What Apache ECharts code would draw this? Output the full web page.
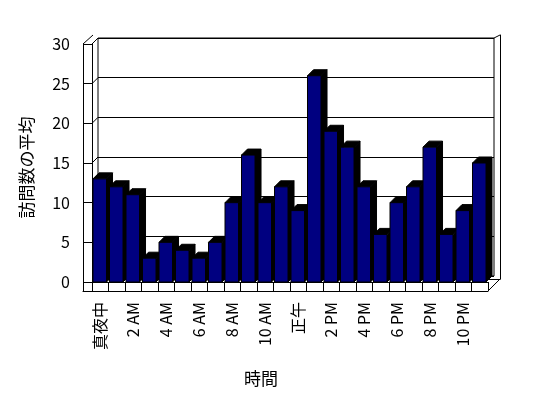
<!DOCTYPE html>
<html>
<head>
<meta charset="utf-8">
<script src="https://cdn.jsdelivr.net/npm/echarts@6/dist/echarts.min.js"></script>
<style>
  html, body { margin: 0; padding: 0; background: #fff; }
  #chart { width: 548px; height: 398px; }
</style>
</head>
<body>
<div id="chart"></div>
<script>
// 時間帯（ラベルは1つおきに表示）
const hours = ['真夜中', '1 AM', '2 AM', '3 AM', '4 AM', '5 AM', '6 AM', '7 AM', '8 AM', '9 AM', '10 AM', '11 AM',
  '正午', '1 PM', '2 PM', '3 PM', '4 PM', '5 PM', '6 PM', '7 PM', '8 PM', '9 PM', '10 PM', '11 PM']
// 訪問数の平均
const visits = [13, 12, 11, 3, 5, 4, 3, 5, 10, 16, 10, 12, 9, 26, 19, 17, 12, 6, 10, 12, 17, 6, 9, 15]
const yMin = 0
const yMax = 30
const yStep = 5
const yTicks = [0, 5, 10, 15, 20, 25, 30]

const font = '"Noto Sans CJK JP", "Noto Sans", sans-serif'
const depth = 6

const chart = echarts.init(document.getElementById('chart'))

// 3D風の棒：正面＋上面＋側面
function renderBar (params, api) {
  const idx = api.value(0)
  const top = api.coord([idx, api.value(1)])
  const base = api.coord([idx, 0])
  const w = api.size([1, 0])[0]
  const x0 = top[0] - w / 2 + 1
  const x1 = x0 + w * 0.82
  return {
    type: 'group',
    children: [
      {
        type: 'polygon',
        shape: { points: [[x1, top[1]], [x1 + depth, top[1] - depth], [x1 + depth, base[1] - depth], [x1, base[1]]] },
        style: { fill: '#000', stroke: '#000', lineWidth: 1 }
      },
      {
        type: 'polygon',
        shape: { points: [[x0, top[1]], [x0 + depth, top[1] - depth], [x1 + depth, top[1] - depth], [x1, top[1]]] },
        style: { fill: '#000', stroke: '#000', lineWidth: 1 }
      },
      {
        type: 'rect',
        shape: { x: x0, y: top[1], width: x1 - x0, height: base[1] - top[1] },
        style: { fill: '#000080', stroke: '#000', lineWidth: 1 }
      }
    ]
  }
}

// 左の壁：手前の目盛から奥の目盛線へつなぐ斜線
function renderWallTick (params, api) {
  const p = api.coord([0, api.value(0)])
  const x = params.coordSys.x
  return {
    type: 'line',
    shape: { x1: x, y1: p[1], x2: x + depth, y2: p[1] - depth },
    style: { stroke: '#000', lineWidth: 1 }
  }
}

const hidden = { show: false }

const option = {
  backgroundColor: '#fff',
  animation: false,
  title: {
    text: '時間',
    left: 239,
    top: 365,
    textStyle: { fontFamily: font, fontSize: 17, fontWeight: 'normal', color: '#000' }
  },
  grid: [
    // 奥の壁（目盛線）
    { left: 98, top: 38, width: 396, height: 238, show: true, borderColor: '#000', borderWidth: 1, backgroundColor: '#fff' },
    // 手前の面（棒・軸ラベル）
    { left: 92, top: 44, width: 396, height: 238 },
    // 外枠（左壁・床の前縁）
    { left: 83, top: 44, width: 405, height: 247 },
    // 外枠（上・右）
    { left: 93, top: 35, width: 407, height: 244 }
  ],
  xAxis: [
    { gridIndex: 0, type: 'category', data: hours, axisLine: hidden, axisTick: hidden, axisLabel: hidden },
    {
      gridIndex: 1,
      type: 'category',
      data: hours,
      axisLine: { show: true, lineStyle: { color: '#000', width: 1 } },
      axisTick: { show: true, interval: 0, length: 9, lineStyle: { color: '#000' } },
      axisLabel: {
        interval: 1,
        rotate: 90,
        margin: 20,
        color: '#000',
        fontFamily: font,
        fontSize: 16
      }
    },
    {
      gridIndex: 2,
      type: 'category',
      data: hours,
      axisLine: { show: true, lineStyle: { color: '#000', width: 1 } },
      axisTick: hidden,
      axisLabel: hidden
    },
    {
      gridIndex: 3,
      type: 'category',
      data: hours,
      position: 'top',
      axisLine: { show: true, lineStyle: { color: '#000', width: 1 } },
      axisTick: hidden,
      axisLabel: hidden
    }
  ],
  yAxis: [
    {
      gridIndex: 0,
      type: 'value',
      min: yMin,
      max: yMax,
      interval: yStep,
      axisLine: hidden,
      axisTick: hidden,
      axisLabel: hidden,
      splitLine: { show: true, lineStyle: { color: '#000', width: 1 } }
    },
    {
      gridIndex: 1,
      type: 'value',
      min: yMin,
      max: yMax,
      interval: yStep,
      axisLine: { show: true, lineStyle: { color: '#000', width: 1 } },
      axisTick: { show: true, length: 9, lineStyle: { color: '#000' } },
      axisLabel: { margin: 22, color: '#000', fontFamily: font, fontSize: 16 },
      splitLine: hidden
    },
    {
      gridIndex: 2,
      type: 'value',
      min: yMin,
      max: yMax,
      name: '訪問数の平均',
      nameLocation: 'middle',
      nameGap: 48,
      nameTextStyle: { color: '#000', fontFamily: font, fontSize: 17 },
      axisLine: { show: true, lineStyle: { color: '#000', width: 1 } },
      axisTick: hidden,
      axisLabel: hidden,
      splitLine: hidden
    },
    {
      gridIndex: 3,
      type: 'value',
      min: yMin,
      max: yMax,
      position: 'right',
      axisLine: { show: true, lineStyle: { color: '#000', width: 1 } },
      axisTick: hidden,
      axisLabel: hidden,
      splitLine: hidden
    }
  ],
  series: [
    {
      type: 'custom',
      xAxisIndex: 1,
      yAxisIndex: 1,
      renderItem: renderWallTick,
      data: yTicks.map(v => [v]),
      encode: { y: 0 },
      z: 4
    },
    {
      type: 'custom',
      xAxisIndex: 1,
      yAxisIndex: 1,
      renderItem: renderBar,
      data: visits.map((v, i) => [i, v]),
      z: 5
    }
  ],
  graphic: [
    { type: 'line', shape: { x1: 83, y1: 44, x2: 93, y2: 35 }, style: { stroke: '#000', lineWidth: 1 }, z: 10 },
    { type: 'line', shape: { x1: 494, y1: 38, x2: 500, y2: 35 }, style: { stroke: '#000', lineWidth: 1 }, z: 10 },
    { type: 'line', shape: { x1: 488, y1: 291, x2: 500, y2: 279 }, style: { stroke: '#000', lineWidth: 1 }, z: 10 }
  ]
}

chart.setOption(option)
</script>
</body>
</html>
